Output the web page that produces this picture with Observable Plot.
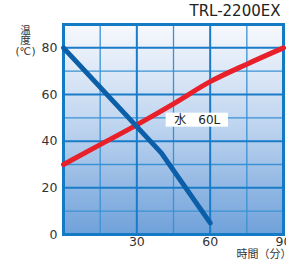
<!DOCTYPE html>
<html><head><meta charset="utf-8">
<script src="https://cdn.jsdelivr.net/npm/d3@7"></script>
<script src="https://cdn.jsdelivr.net/npm/@observablehq/plot@0.6"></script>
<style>
body{margin:0;background:#fff;}
svg text{font-family:"DejaVu Sans","Noto Sans CJK JP",sans-serif;}
</style>
</head><body>
<div id="chart"></div>
<script>
const title = "TRL-2200EX";
const xLabel = "時間（分）";
const yLabelLines = ["温", "度", "(℃)"];
const noteText = "水　60L";
const noteX = [42, 67.5];
const noteY = [46, 52];

const xTicks = [30, 60, 90];
const yTicks = [0, 20, 40, 60, 80];
const xMinor = [15, 45, 75];
const yMinor = [10, 30, 50, 70];

const blueTime = [0, 40, 60];
const blueTemp = [80, 35, 5];
const redTime = [0, 15, 30, 45, 60, 75, 90];
const redTemp = [30, 38.5, 47, 56, 65.5, 73, 80];

const blue = blueTime.map((t, i) => ({t, v: blueTemp[i]}));
const red = redTime.map((t, i) => ({t, v: redTemp[i]}));
const yLabelOffsets = [6, 16.5, 27.5];
const cjk = "'Noto Sans CJK JP', sans-serif";

const plot = Plot.plot({
  width: 286, height: 259,
  marginLeft: 63, marginRight: 3, marginTop: 24, marginBottom: 25,
  x: {domain: [0, 90], axis: null},
  y: {domain: [0, 90], axis: null},
  style: {background: "transparent", overflow: "visible"},
  marks: [
    Plot.frame({fill: "url(#bgGrad)", stroke: "none"}),
    Plot.ruleX(xMinor, {stroke: "#3a92d4", strokeWidth: 1.3}),
    Plot.ruleY(yMinor, {stroke: "#3a92d4", strokeWidth: 1.3}),
    Plot.ruleX([30, 60], {stroke: "#1a7cc8", strokeWidth: 2}),
    Plot.ruleY([20, 40, 60, 80], {stroke: "#1a7cc8", strokeWidth: 2}),
    Plot.frame({stroke: "#137ac6", strokeWidth: 3}),
    Plot.line(red, {x: "t", y: "v", stroke: "#e8202a", strokeWidth: 5, curve: "monotone-x"}),
    Plot.line(blue, {x: "t", y: "v", stroke: "#0b5ea8", strokeWidth: 5, strokeLinecap: "round", strokeLinejoin: "round"}),
    Plot.rect([{}], {x1: () => noteX[0], x2: () => noteX[1], y1: () => noteY[0], y2: () => noteY[1], fill: "white"}),
    Plot.text([noteText], {x: (noteX[0] + noteX[1]) / 2, y: (noteY[0] + noteY[1]) / 2, text: d => d, fill: "#222", fontSize: 12}),
    Plot.text(yTicks, {x: 0, y: d => d, text: d => String(d), textAnchor: "end", dx: -6, fill: "#333", fontSize: 12.5}),
    Plot.text(xTicks, {x: d => d, y: 0, text: d => String(d), dy: 3, lineAnchor: "top", fill: "#333", fontSize: 12.5}),
    Plot.text([title], {frameAnchor: "top-right", text: d => d, dy: -19, dx: -3, lineAnchor: "top", fill: "#222", fontSize: 15}),
    ...yLabelLines.map((s, i) => Plot.text([s], {frameAnchor: "top-left", text: d => d, textAnchor: "middle", lineAnchor: "middle", dx: -38, dy: yLabelOffsets[i], fill: "#333", fontSize: 10.5, fontFamily: cjk})),
    Plot.text([xLabel], {frameAnchor: "bottom-left", text: d => d, textAnchor: "start", dx: 173, dy: 20, lineAnchor: "middle", fill: "#333", fontSize: 11, fontFamily: cjk})
  ]
});

const svg = d3.select(plot);
const defs = svg.insert("defs", ":first-child");
const g = defs.append("linearGradient").attr("id", "bgGrad").attr("x1", 0).attr("y1", 0).attr("x2", 0).attr("y2", 1);
g.append("stop").attr("offset", "0%").attr("stop-color", "#f7f9fd");
g.append("stop").attr("offset", "50%").attr("stop-color", "#bcd3ef");
g.append("stop").attr("offset", "100%").attr("stop-color", "#6fa1da");
document.getElementById("chart").append(plot);
</script>
</body></html>
